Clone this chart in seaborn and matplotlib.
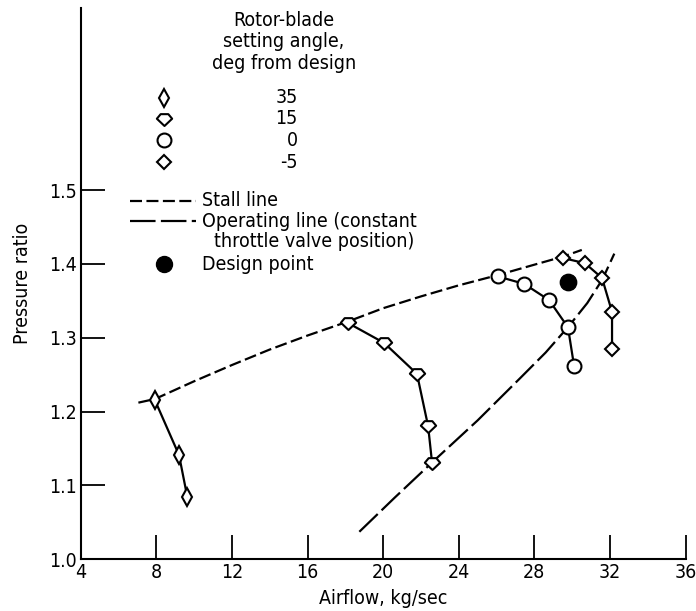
import matplotlib
matplotlib.use("Agg")
import matplotlib.pyplot as plt
from matplotlib.path import Path
import seaborn as sns

# Rotor-blade setting angle series (airflow kg/sec, pressure ratio)
air_35 = [7.93, 9.20, 9.64]
pr_35 = [1.215, 1.141, 1.084]

air_15 = [18.14, 20.05, 21.79, 22.38, 22.59]
pr_15 = [1.320, 1.293, 1.251, 1.180, 1.130]

air_0 = [26.08, 27.46, 28.78, 29.78, 30.10]
pr_0 = [1.383, 1.373, 1.351, 1.314, 1.262]

air_m5 = [29.52, 30.68, 31.58, 32.11, 32.11]
pr_m5 = [1.408, 1.401, 1.381, 1.335, 1.285]

# Stall line and operating line
stall_air = [7.05, 7.93, 10.0, 12.0, 14.0, 16.0, 18.14, 20.0, 22.0, 24.0, 26.08, 28.0, 29.52, 30.51]
stall_pr = [1.212, 1.217, 1.241, 1.263, 1.284, 1.303, 1.322, 1.340, 1.356, 1.371, 1.385, 1.399, 1.410, 1.419]

oper_air = [18.74, 20.6, 22.59, 25.0, 27.24, 28.6, 29.80, 30.8, 31.60, 32.23]
oper_pr = [1.037, 1.083, 1.131, 1.188, 1.245, 1.280, 1.315, 1.347, 1.379, 1.414]

design_air = [29.77]
design_pr = [1.376]

x_ticks = [4, 8, 12, 16, 20, 24, 28, 32, 36]
y_ticks = [1.0, 1.1, 1.2, 1.3, 1.4, 1.5]
angle_labels = ["35", "15", "0", "-5"]

sns.set_theme(style="white")
plt.rcParams["font.family"] = ["DejaVu Sans"]
plt.rcParams["font.stretch"] = "condensed"
for key in ("text.color", "axes.labelcolor", "xtick.color", "ytick.color"):
    plt.rcParams[key] = "black"

fig = plt.figure(figsize=(6.96, 6.11), dpi=100)
ax = fig.add_axes([0.116, 0.085, 0.869, 0.902])

# flat-topped diamond used for the 15 deg series
shield = Path([(-1.0, 0.1), (-0.5, 0.7), (0.5, 0.7), (1.0, 0.1), (0.0, -0.85), (-1.0, 0.1)],
              [Path.MOVETO, Path.LINETO, Path.LINETO, Path.LINETO, Path.LINETO, Path.CLOSEPOLY])

series = [
    (air_35, pr_35, "d", 8.8),
    (air_15, pr_15, shield, 11.0),
    (air_0, pr_0, "o", 10.0),
    (air_m5, pr_m5, "D", 7.2),
]

lw = 1.6
stall_dash = (0, (5.4, 2.0))
oper_dash = (0, (11.5, 2.4))
sns.lineplot(x=stall_air, y=stall_pr, sort=False, estimator=None, ax=ax,
             color="black", lw=lw, linestyle=stall_dash)
sns.lineplot(x=oper_air, y=oper_pr, sort=False, estimator=None, ax=ax,
             color="black", lw=lw, linestyle=oper_dash)

for xs, ys, mk, ms in series:
    sns.lineplot(x=xs, y=ys, sort=False, estimator=None, ax=ax, color="black", lw=lw,
                 marker=mk, markersize=ms, markerfacecolor="white",
                 markeredgecolor="black", markeredgewidth=1.5, zorder=3)

sns.scatterplot(x=design_air, y=design_pr, ax=ax, color="black", s=140,
                edgecolor="black", zorder=4)

ax.set_xlim(4, 36)
ax.set_ylim(1.0, 1.747)
ax.set_xticks(x_ticks)
ax.set_xticklabels([str(v) for v in x_ticks])
ax.set_yticks(y_ticks)
ax.set_yticklabels([f"{v:.1f}" for v in y_ticks])
ax.tick_params(direction="in", length=17, width=1.3, labelsize=14, color="black",
               pad=3, bottom=True, left=True)
for side in ("top", "right"):
    ax.spines[side].set_visible(False)
for side in ("left", "bottom"):
    ax.spines[side].set_color("black")
    ax.spines[side].set_linewidth(1.5)

ax.set_xlabel("Airflow, kg/sec", fontsize=14, labelpad=5)
ax.set_ylabel("Pressure ratio", fontsize=14, labelpad=12)

# Key
T = ax.transAxes
fs = 14
for txt, yy in zip(["Rotor-blade", "setting angle,", "deg from design"], [0.978, 0.940, 0.900]):
    ax.text(0.336, yy, txt, transform=T, ha="center", va="center", fontsize=fs)
rows = [0.837, 0.799, 0.760, 0.720]
for (xs, ys, mk, ms), lab, yy in zip(series, angle_labels, rows):
    ax.plot([0.138], [yy], transform=T, marker=mk, markersize=ms, markerfacecolor="white",
            markeredgecolor="black", markeredgewidth=1.5, clip_on=False, ls="none")
    ax.text(0.359, yy, lab, transform=T, ha="right", va="center", fontsize=fs)

ax.plot([0.0815, 0.191], [0.650, 0.650], transform=T, color="black", lw=lw,
        linestyle=stall_dash, clip_on=False)
ax.text(0.200, 0.650, "Stall line", transform=T, ha="left", va="center", fontsize=fs)
ax.plot([0.0815, 0.191], [0.613, 0.613], transform=T, color="black", lw=lw,
        linestyle=oper_dash, clip_on=False)
ax.text(0.200, 0.613, "Operating line (constant", transform=T, ha="left", va="center", fontsize=fs)
ax.text(0.220, 0.577, "throttle valve position)", transform=T, ha="left", va="center", fontsize=fs)
ax.plot([0.138], [0.535], transform=T, marker="o", markersize=11.5, color="black",
        clip_on=False, ls="none")
ax.text(0.200, 0.535, "Design point", transform=T, ha="left", va="center", fontsize=fs)

fig.savefig("out.png", dpi=100)
